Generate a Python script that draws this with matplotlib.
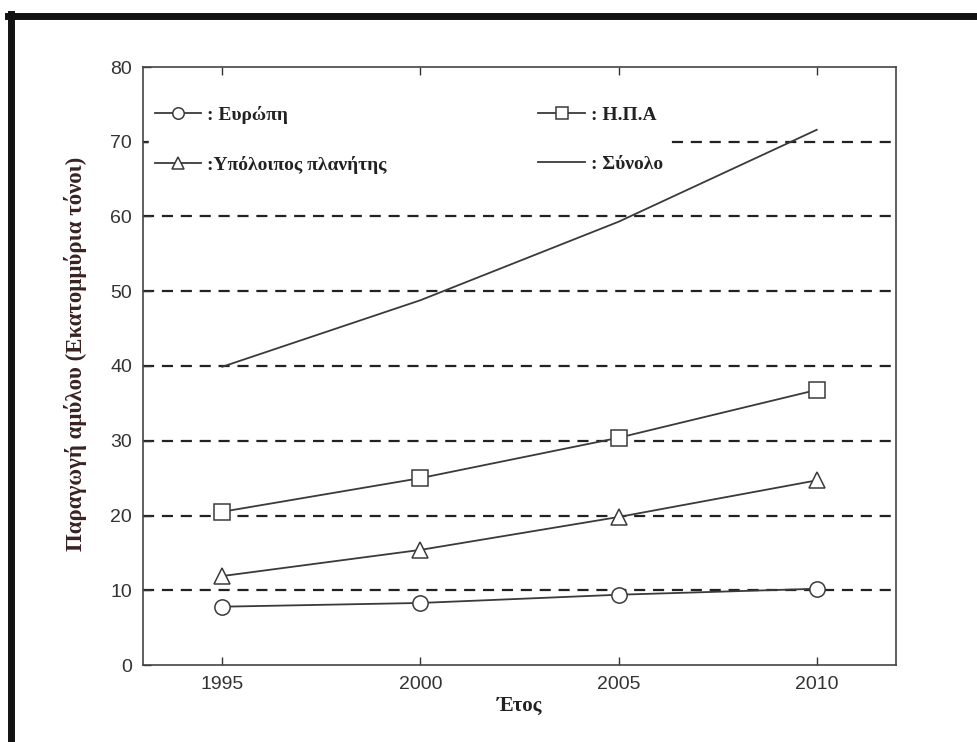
import matplotlib
matplotlib.use("Agg")
import matplotlib.pyplot as plt
from matplotlib.lines import Line2D

years = [1995, 2000, 2005, 2010]
europe = [7.8, 8.3, 9.4, 10.2]
usa = [20.5, 25.0, 30.4, 36.8]
rest = [11.9, 15.4, 19.8, 24.7]
total = [39.9, 48.8, 59.3, 71.6]
yticks = [0, 10, 20, 30, 40, 50, 60, 70, 80]
grid_levels = [10, 20, 30, 40, 50, 60, 70]

labels = [": Ευρώπη", ": Η.Π.Α", ":Υπόλοιπος πλανήτης", ": Σύνολο"]
xlabel = "Έτος"
ylabel = "Παραγωγή αμύλου (Εκατομμύρια τόνοι)"

line_color = "#3a3a3a"
serif = ["Liberation Serif", "DejaVu Serif"]
sans = ["Liberation Sans", "DejaVu Sans"]

fig = plt.figure(figsize=(9.78, 7.42), dpi=100)
ax = fig.add_axes([143/978, 1-665/742, (896-143)/978, (665-67)/742])

for g in grid_levels:
    ax.axhline(g, color="#222222", lw=1.6, ls=(0, (5, 3.5)), zorder=1)

h1, = ax.plot(years, europe, color=line_color, lw=1.3, marker="o", ms=11,
              mfc="white", mec=line_color, mew=1.1, zorder=3)
h2, = ax.plot(years, usa, color=line_color, lw=1.3, marker="s", ms=11,
              mfc="white", mec=line_color, mew=1.1, zorder=3)
h3, = ax.plot(years, rest, color=line_color, lw=1.3, marker="^", ms=12,
              mfc="white", mec=line_color, mew=1.1, zorder=3)
h4, = ax.plot(years, total, color=line_color, lw=1.3, zorder=3)

ax.set_xlim(1993, 2012)
ax.set_ylim(0, 80)
ax.set_xticks(years)
ax.set_yticks(yticks)
ax.tick_params(direction="in", length=6, width=1, top=True, right=False,
               labelsize=14, pad=8, colors="#333333", labelcolor="#333333")
for lab in ax.get_xticklabels() + ax.get_yticklabels():
    lab.set_family(sans)
for s in ax.spines.values():
    s.set_color("#444444")
    s.set_linewidth(1.2)

ax.set_xlabel(xlabel, fontsize=15, fontweight="bold", family=serif, labelpad=2, color="#222222")
ax.set_ylabel(ylabel, fontsize=16.5, fontweight="bold", family=serif, color="#3a2222")
ax.yaxis.set_label_coords(-0.075, 0.52)

leg = ax.legend([h1, h3, h2, h4], [labels[0], labels[2], labels[1], labels[3]],
                ncol=2, loc="upper left", bbox_to_anchor=(0.0, 0.955),
                frameon=True, facecolor="white", edgecolor="white", framealpha=1,
                prop={"family": serif, "weight": "bold", "size": 14},
                handlelength=2.4, handletextpad=0.3, columnspacing=7.8,
                labelspacing=1.65, borderaxespad=0.3, borderpad=0.3, markerscale=0.75)
leg.set_zorder(2)
for t in leg.get_texts():
    t.set_color("#222222")

# scanned page border
fig.add_artist(Line2D([8/978, 1.0], [1-16/742, 1-16/742], color="#111111", lw=5, transform=fig.transFigure))
fig.add_artist(Line2D([11/978, 11/978], [0, 1-14/742], color="#111111", lw=5, transform=fig.transFigure))

fig.savefig("out.png", dpi=100)
